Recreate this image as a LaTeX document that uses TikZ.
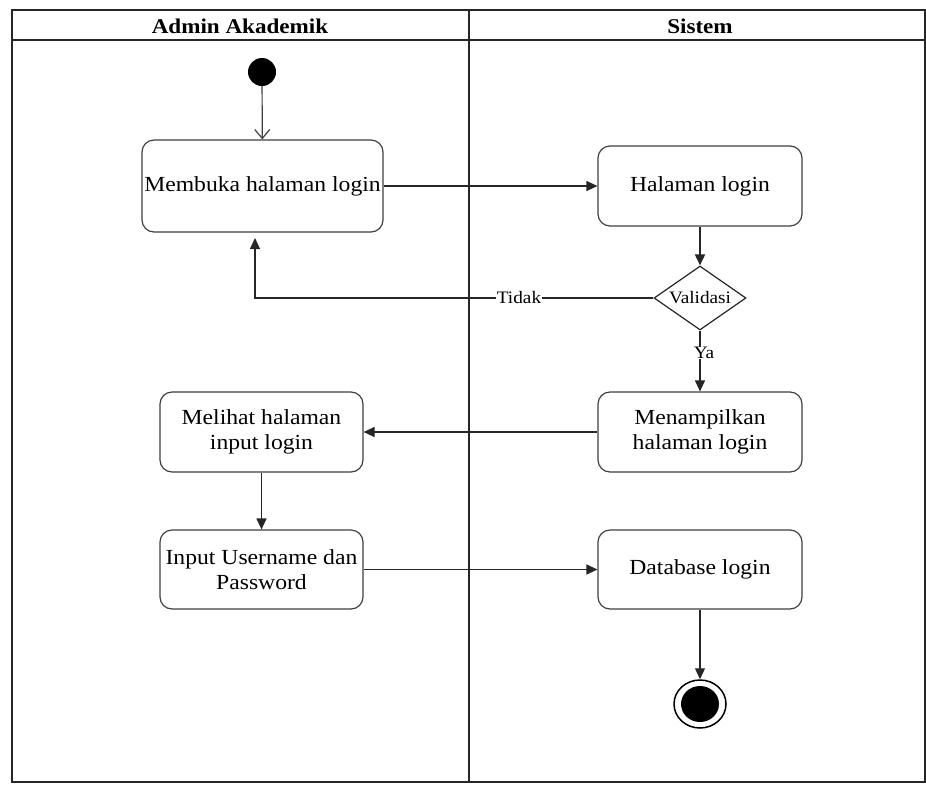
\documentclass[tikz,border=0pt]{standalone}
\usepackage{fontspec}
\setmainfont{Liberation Serif}
\newfontfamily\wideserif[FakeStretch=1.1]{Liberation Serif}
\usetikzlibrary{shapes.geometric,arrows.meta}
\begin{document}
\begin{tikzpicture}[x=1pt,y=-1pt,
  lane/.style={draw=black!85,line width=1.6pt},
  act/.style={draw=black!75,line width=1.2pt,rounded corners=12pt,fill=white,
    align=center,font=\wideserif\fontsize{21.5}{25}\selectfont,inner sep=0pt},
  flow/.style={draw=black!85,line width=1.2pt,-{Triangle[length=11pt,width=10pt]}},
  openflow/.style={draw=black!75,line width=1.2pt,-{Straight Barb[length=9pt,width=15pt]}},
  lbl/.style={font=\wideserif\fontsize{17.5}{20}\selectfont,fill=white,inner sep=0.5pt},
  head/.style={font=\wideserif\bfseries\fontsize{21}{24}\selectfont}]
\useasboundingbox (0,0) rectangle (926,785);
\fill[white] (0,0) rectangle (926,785);
% swimlanes
\draw[lane] (12,10) rectangle (925,782);
\draw[lane] (12,40) -- (925,40);
\draw[lane] (469,10) -- (469,782);
\node[head] (h1) at (240,26) {Admin Akademik};
\node[head] (h2) at (700,26) {Sistem};
% initial state
\node[circle,fill=black,minimum size=28pt,inner sep=0pt] (start) at (262,72) {};
% activities
\node[act,minimum width=241pt,minimum height=92pt] (buka) at (262.5,186) {Membuka halaman login};
\node[act,minimum width=204pt,minimum height=80pt] (hal) at (700,186) {Halaman login};
\node[diamond,draw=black!85,line width=1.2pt,fill=white,minimum width=92pt,minimum height=64pt,
  inner sep=0pt,label={[font=\wideserif\fontsize{17.5}{20}\selectfont]center:Validasi}] (val) at (700,298) {};
\node[act,minimum width=204pt,minimum height=80pt] (tampil) at (700,432) {Menampilkan\\halaman login};
\node[act,minimum width=203pt,minimum height=80pt] (lihat) at (261.5,432) {Melihat halaman\\input login};
\node[act,minimum width=203pt,minimum height=79pt] (input) at (261.5,569.5) {Input Username dan\\Password};
\node[act,minimum width=204pt,minimum height=79pt] (db) at (700,569.5) {Database login};
% final state
\node[ellipse,draw=black,line width=1.5pt,minimum width=52pt,minimum height=48pt,inner sep=0pt] (end) at (700,704) {};
\node[ellipse,fill=black,minimum width=38pt,minimum height=36pt,inner sep=0pt] (endin) at (700,704) {};
% transitions
\draw[openflow] (start) -- (buka);
\draw[flow] (buka.east) -- (hal.west);
\draw[flow,line width=1.8pt] (hal) -- (val);
\coordinate (back) at (255,298);
\draw[flow] (val.west) -- (back) -- (255,238);
\node[lbl] (tidak) at (519,298) {Tidak};
\draw[flow] (val.south) -- (tampil.north);
\node[lbl] (ya) at (704,353) {Ya};
\draw[flow] (tampil.west) -- (lihat.east);
\draw[flow] (lihat) -- (input);
\draw[flow] (input.east) -- (db.west);
\draw[flow] (db.south) -- (end.north);
\end{tikzpicture}
\end{document}
